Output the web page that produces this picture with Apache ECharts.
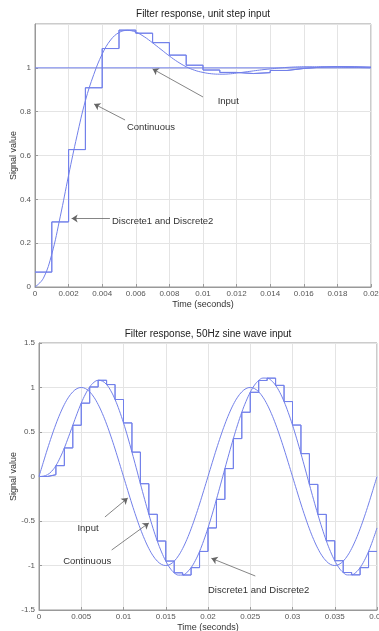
<!DOCTYPE html>
<html><head><meta charset="utf-8">
<script src="https://cdn.jsdelivr.net/npm/echarts/dist/echarts.min.js"></script>
<style>html,body{margin:0;padding:0;background:#fff;}#c{width:379px;height:631px;}</style>
</head><body><div id="c"></div>
<script>
// ---------- Texts ----------
const stepTitle = 'Filter response, unit step input';
const sineTitle = 'Filter response, 50Hz sine wave input';
const xName = 'Time (seconds)';
const yName = 'Signal value';

// ---------- Chart 1: unit step ----------
const stepInputT = [0, 0.02];
const stepInputV = [1, 1];
const stepContT = [0,0.0005,0.001,0.0015,0.002,0.0025,0.003,0.0035,0.004,0.0045,0.005,0.0055,0.006,0.0065,0.007,0.0075,0.008,0.0085,0.009,0.0095,0.01,0.0105,0.011,0.0115,0.012,0.0125,0.013,0.0135,0.014,0.0145,0.015,0.0155,0.016,0.0165,0.017,0.0175,0.018,0.0185,0.019,0.0195,0.02];
const stepContV = [0,0.04,0.15,0.32,0.51,0.69,0.85,0.97,1.063,1.127,1.161,1.171,1.163,1.142,1.114,1.084,1.054,1.027,1.005,0.989,0.979,0.973,0.971,0.972,0.976,0.981,0.986,0.991,0.995,0.999,1.002,1.004,1.005,1.005,1.005,1.004,1.003,1.002,1.002,1.001,1.0];
const stepDiscT = [0,0.001,0.002,0.003,0.004,0.005,0.006,0.007,0.008,0.009,0.01,0.011,0.012,0.013,0.014,0.015,0.016,0.017,0.018,0.019,0.02];
const stepDisc1V = [0.068,0.297,0.627,0.909,1.088,1.172,1.158,1.115,1.058,1.012,0.99,0.979,0.974,0.978,0.988,0.997,1.003,1.006,1.005,1.003,1.003];
const stepDisc2V = [0.068,0.297,0.627,0.909,1.088,1.172,1.158,1.115,1.058,1.012,0.99,0.979,0.974,0.978,0.988,0.997,1.003,1.006,1.005,1.003,1.003];

// ---------- Chart 2: 50 Hz sine ----------
const sineT = [0,0.0005,0.001,0.0015,0.002,0.0025,0.003,0.0035,0.004,0.0045,0.005,0.0055,0.006,0.0065,0.007,0.0075,0.008,0.0085,0.009,0.0095,0.01,0.0105,0.011,0.0115,0.012,0.0125,0.013,0.0135,0.014,0.0145,0.015,0.0155,0.016,0.0165,0.017,0.0175,0.018,0.0185,0.019,0.0195,0.02,0.0205,0.021,0.0215,0.022,0.0225,0.023,0.0235,0.024,0.0245,0.025,0.0255,0.026,0.0265,0.027,0.0275,0.028,0.0285,0.029,0.0295,0.03,0.0305,0.031,0.0315,0.032,0.0325,0.033,0.0335,0.034,0.0345,0.035,0.0355,0.036,0.0365,0.037,0.0375,0.038,0.0385,0.039,0.0395,0.04];
const sineInputV = [0,0.156,0.309,0.454,0.588,0.707,0.809,0.891,0.951,0.988,1,0.988,0.951,0.891,0.809,0.707,0.588,0.454,0.309,0.156,0,-0.156,-0.309,-0.454,-0.588,-0.707,-0.809,-0.891,-0.951,-0.988,-1,-0.988,-0.951,-0.891,-0.809,-0.707,-0.588,-0.454,-0.309,-0.156,0,0.156,0.309,0.454,0.588,0.707,0.809,0.891,0.951,0.988,1,0.988,0.951,0.891,0.809,0.707,0.588,0.454,0.309,0.156,0,-0.156,-0.309,-0.454,-0.588,-0.707,-0.809,-0.891,-0.951,-0.988,-1,-0.988,-0.951,-0.891,-0.809,-0.707,-0.588,-0.454,-0.309,-0.156,0];
const sineContV = [0,0.004,0.020,0.059,0.122,0.212,0.321,0.446,0.576,0.705,0.824,0.926,1.006,1.058,1.081,1.072,1.033,0.963,0.865,0.743,0.602,0.444,0.274,0.098,-0.081,-0.257,-0.425,-0.583,-0.725,-0.848,-0.950,-1.029,-1.082,-1.108,-1.107,-1.078,-1.024,-0.945,-0.842,-0.718,-0.578,-0.423,-0.257,-0.085,0.089,0.261,0.426,0.581,0.722,0.844,0.946,1.026,1.079,1.106,1.105,1.078,1.024,0.945,0.842,0.718,0.578,0.423,0.257,0.085,-0.089,-0.261,-0.426,-0.581,-0.722,-0.844,-0.946,-1.026,-1.079,-1.106,-1.105,-1.078,-1.024,-0.945,-0.842,-0.718,-0.578];
const sineDiscT = [0,0.001,0.002,0.003,0.004,0.005,0.006,0.007,0.008,0.009,0.01,0.011,0.012,0.013,0.014,0.015,0.016,0.017,0.018,0.019,0.02,0.021,0.022,0.023,0.024,0.025,0.026,0.027,0.028,0.029,0.03,0.031,0.032,0.033,0.034,0.035,0.036,0.037,0.038,0.039,0.04];
const sineDisc1V = [0,0.020,0.122,0.321,0.576,0.824,1.006,1.081,1.033,0.865,0.602,0.274,-0.081,-0.425,-0.725,-0.950,-1.082,-1.107,-1.024,-0.842,-0.578,-0.257,0.089,0.426,0.722,0.946,1.079,1.105,1.024,0.842,0.578,0.257,-0.089,-0.426,-0.722,-0.946,-1.079,-1.105,-1.024,-0.842,-0.842];
const sineDisc2V = [0,0.020,0.122,0.321,0.576,0.824,1.006,1.081,1.033,0.865,0.602,0.274,-0.081,-0.425,-0.725,-0.950,-1.082,-1.107,-1.024,-0.842,-0.578,-0.257,0.089,0.426,0.722,0.946,1.079,1.105,1.024,0.842,0.578,0.257,-0.089,-0.426,-0.722,-0.946,-1.079,-1.105,-1.024,-0.842,-0.842];

// ---------- Build ----------
const zip = (t, v) => t.map((x, i) => [x, v[i]]);
const LINE = '#7280ea';
const FONT = 'Liberation Sans, Arial, sans-serif';
const fmt = v => String(parseFloat(v.toFixed(4)));

function xAxisOf(gi, max, interval) {
  return {
    type: 'value', gridIndex: gi, min: 0, max: max, interval: interval,
    axisLine: { show: true, onZero: false, lineStyle: { color: '#999', width: 1 } },
    axisTick: { show: true, inside: true, length: 3, lineStyle: { color: '#999' } },
    axisLabel: { fontSize: 8, color: '#555', margin: 3, fontFamily: FONT, formatter: fmt, hideOverlap: false },
    splitLine: { show: true, lineStyle: { color: '#e4e4e4', width: 1 } },
    name: xName, nameLocation: 'middle', nameGap: 13, nameMoveOverlap: false,
    nameTextStyle: { fontSize: 9, color: '#333', fontFamily: FONT }
  };
}
function yAxisOf(gi, min, max, interval, showMax, gap) {
  return {
    type: 'value', gridIndex: gi, min: min, max: max, interval: interval,
    axisLine: { show: true, onZero: false, lineStyle: { color: '#999', width: 1 } },
    axisTick: { show: true, inside: true, length: 3, lineStyle: { color: '#999' } },
    axisLabel: { fontSize: 8, color: '#555', margin: 4, fontFamily: FONT, formatter: fmt, showMaxLabel: showMax },
    splitLine: { show: true, lineStyle: { color: '#e4e4e4', width: 1 } },
    name: yName, nameLocation: 'middle', nameGap: gap, nameRotate: 90, nameMoveOverlap: false,
    nameTextStyle: { fontSize: 9, color: '#333', fontFamily: FONT }
  };
}
function lineSeries(xi, data, extra) {
  return Object.assign({
    type: 'line', xAxisIndex: xi, yAxisIndex: xi, data: data,
    showSymbol: false, symbol: 'none', silent: true,
    lineStyle: { color: LINE, width: 1 }, itemStyle: { color: LINE }
  }, extra || {});
}
function annot(texts, arrows) {
  return {
    markPoint: {
      symbol: 'circle', symbolSize: 0, silent: true, animation: false,
      data: texts.map(a => ({ name: a[0], coord: a[1] })),
      label: { show: true, position: 'inside', formatter: p => p.name, fontSize: 9.5, color: '#333', fontFamily: FONT }
    },
    markLine: {
      silent: true, animation: false, symbol: ['none', 'arrow'], symbolSize: 6,
      label: { show: false },
      lineStyle: { color: '#666', width: 0.8, type: 'solid' },
      data: arrows.map(a => [{ coord: a[0] }, { coord: a[1] }])
    }
  };
}

const option = {
  animation: false,
  backgroundColor: '#fff',
  title: [
    { text: stepTitle, left: 203, top: 9, textAlign: 'center', padding: 0,
      textStyle: { fontSize: 10, fontWeight: 'normal', color: '#222', fontFamily: FONT } },
    { text: sineTitle, left: 208, top: 329, textAlign: 'center', padding: 0,
      textStyle: { fontSize: 10, fontWeight: 'normal', color: '#222', fontFamily: FONT } }
  ],
  grid: [
    { left: 35, top: 24, width: 336, height: 263, show: true, borderColor: '#999', borderWidth: 1, containLabel: false, outerBoundsMode: 'none' },
    { left: 39, top: 343, width: 338, height: 267, show: true, borderColor: '#999', borderWidth: 1, containLabel: false, outerBoundsMode: 'none' }
  ],
  xAxis: [xAxisOf(0, 0.02, 0.002), xAxisOf(1, 0.04, 0.005)],
  yAxis: [yAxisOf(0, 0, 1.2, 0.2, false, 17), yAxisOf(1, -1.5, 1.5, 0.5, true, 21)],
  series: [
    lineSeries(0, zip(stepInputT, stepInputV), annot(
      [['Input', [0.0115, 0.845]], ['Continuous', [0.0069, 0.73]], ['Discrete1 and Discrete2', [0.0076, 0.301]]],
      [[[0.0100, 0.867], [0.0070, 0.995]], [[0.00536, 0.762], [0.00352, 0.835]], [[0.00446, 0.313], [0.00218, 0.313]]]
    )),
    lineSeries(0, zip(stepContT, stepContV), { smooth: 0.4 }),
    lineSeries(0, zip(stepDiscT, stepDisc1V), { step: 'end' }),
    lineSeries(0, zip(stepDiscT, stepDisc2V), { step: 'end' }),
    lineSeries(1, zip(sineT, sineInputV), Object.assign({ smooth: 0.4 }, annot(
      [['Input', [0.0058, -0.58]], ['Continuous', [0.0057, -0.957]], ['Discrete1 and Discrete2', [0.026, -1.275]]],
      [[[0.0078, -0.455], [0.0105, -0.242]], [[0.0086, -0.826], [0.0130, -0.522]], [[0.0256, -1.118], [0.0204, -0.919]]]
    ))),
    lineSeries(1, zip(sineT, sineContV), { smooth: 0.4 }),
    lineSeries(1, zip(sineDiscT, sineDisc1V), { step: 'end' }),
    lineSeries(1, zip(sineDiscT, sineDisc2V), { step: 'end' })
  ]
};

const chart = echarts.init(document.getElementById('c'), null, { renderer: 'canvas' });
chart.setOption(option);
</script>
</body></html>
